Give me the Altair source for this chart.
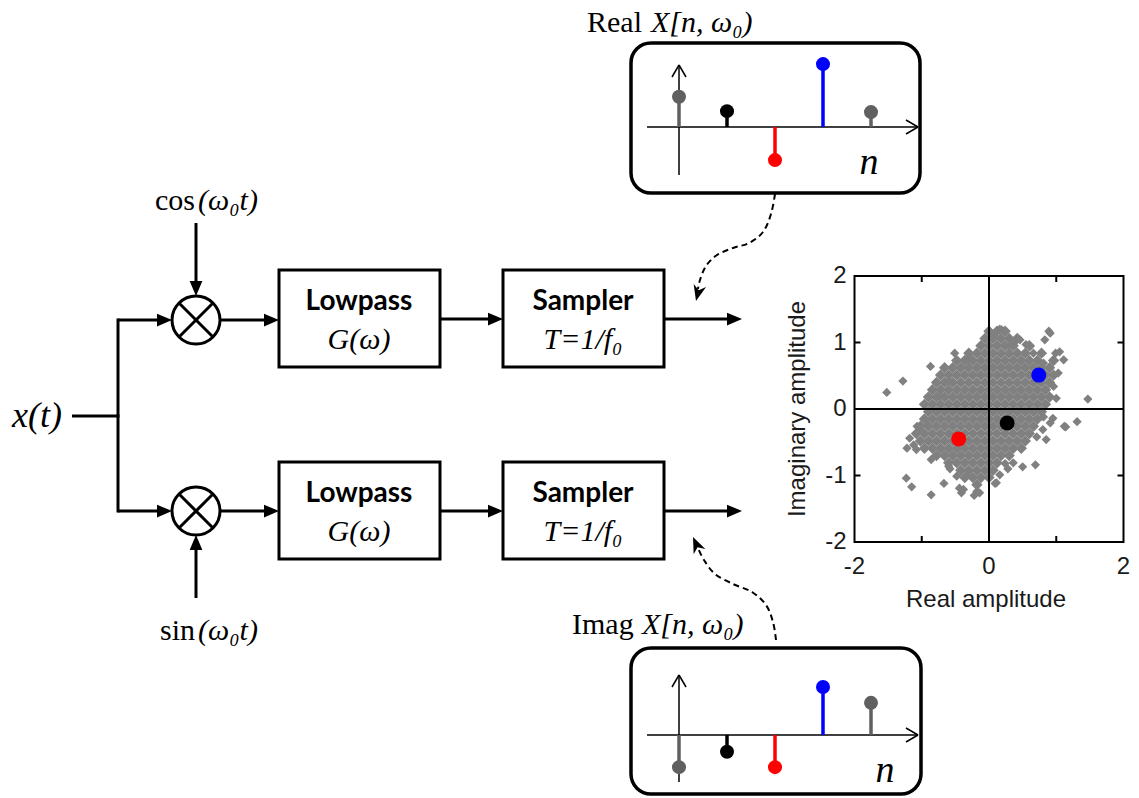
import math
import altair as alt
import pandas as pd

W, H = 1139, 798
SERIF, SANS, BOLD = "Liberation Serif", "Liberation Sans", "Lato"
GRAY = "#808080"

# ---------------- data ----------------
# samples n = 0..4 shown in the two stem plots (arbitrary units)
STEM_N = [0, 1, 2, 3, 4]
STEM_COLORS = ["#606060", "#000000", "#ff0000", "#0000ff", "#606060"]
REAL_STEMS = [0.63, 0.33, -0.69, 1.31, 0.31]
IMAG_STEMS = [-0.67, -0.35, -0.67, 1.00, 0.67]

# highlighted constellation points (real, imaginary)
HL_RE = [-0.45, 0.27, 0.74]
HL_IM = [-0.45, -0.21, 0.51]
HL_COLORS = ["#ff0000", "#000000", "#0000ff"]

# dense core of the scatter cloud, read row by row: (imag, [real values])
CLOUD_CORE = [
    (1.17, [0.00, 0.12, 0.24]),
    (1.06, [-0.06, 0.06, 0.18, 0.30, 0.42]),
    (0.95, [-0.12, 0.00, 0.12, 0.24, 0.36, 0.60]),
    (0.84, [-0.30, -0.18, -0.06, 0.06, 0.18, 0.30, 0.42, 0.54, 0.78]),
    (0.73, [-0.48, -0.36, -0.24, -0.12, 0.00, 0.12, 0.24, 0.36, 0.48, 0.60, 0.72, 0.96]),
    (0.62, [-0.66, -0.54, -0.42, -0.30, -0.18, -0.06, 0.06, 0.18, 0.30, 0.42, 0.54, 0.66, 0.78, 0.90]),
    (0.51, [-0.72, -0.60, -0.48, -0.36, -0.24, -0.12, 0.00, 0.12, 0.24, 0.36, 0.48, 0.60, 0.72, 0.84, 0.96]),
    (0.40, [-0.78, -0.66, -0.54, -0.42, -0.30, -0.18, -0.06, 0.06, 0.18, 0.30, 0.42, 0.54, 0.66, 0.78, 0.90]),
    (0.29, [-0.84, -0.72, -0.60, -0.48, -0.36, -0.24, -0.12, 0.00, 0.12, 0.24, 0.36, 0.48, 0.60, 0.72, 0.84]),
    (0.18, [-0.90, -0.78, -0.66, -0.54, -0.42, -0.30, -0.18, -0.06, 0.06, 0.18, 0.30, 0.42, 0.54, 0.66, 0.78, 0.90]),
    (0.07, [-0.96, -0.84, -0.72, -0.60, -0.48, -0.36, -0.24, -0.12, 0.00, 0.12, 0.24, 0.36, 0.48, 0.60, 0.72, 0.84]),
    (-0.04, [-0.90, -0.78, -0.66, -0.54, -0.42, -0.30, -0.18, -0.06, 0.06, 0.18, 0.30, 0.42, 0.54, 0.66, 0.78]),
    (-0.15, [-0.96, -0.84, -0.72, -0.60, -0.48, -0.36, -0.24, -0.12, 0.00, 0.12, 0.24, 0.36, 0.48, 0.60, 0.72]),
    (-0.26, [-1.02, -0.90, -0.78, -0.66, -0.54, -0.42, -0.30, -0.18, -0.06, 0.06, 0.18, 0.30, 0.42, 0.54, 0.66]),
    (-0.37, [-1.08, -0.96, -0.84, -0.72, -0.60, -0.48, -0.36, -0.24, -0.12, 0.00, 0.12, 0.24, 0.36, 0.48, 0.60]),
    (-0.48, [-1.02, -0.90, -0.78, -0.66, -0.54, -0.42, -0.30, -0.18, -0.06, 0.06, 0.18, 0.30, 0.42, 0.54]),
    (-0.59, [-0.96, -0.84, -0.72, -0.60, -0.48, -0.36, -0.24, -0.12, 0.00, 0.12, 0.24, 0.36, 0.48]),
    (-0.70, [-0.78, -0.66, -0.54, -0.42, -0.30, -0.18, -0.06, 0.06, 0.18, 0.30]),
    (-0.81, [-0.60, -0.48, -0.36, -0.24, -0.12, 0.00, 0.12]),
    (-0.92, [-0.42, -0.30, -0.18, -0.06, 0.06]),
    (-1.03, [-0.36, -0.24, -0.12, 0.00]),
    (-1.14, [-0.18]),
]

# isolated points round the edge of the cloud
CLOUD_EDGE_RE = [-1.52, -1.28, -0.87, -0.51, -0.30, 0.16, 0.06, 0.36, 0.55, 0.89, 0.83, 0.99,
                 1.11, 1.03, 1.47, 1.31, 1.12, 0.95, 0.69, 0.50, 0.28, 0.11, -0.14, -0.22,
                 -0.41, -0.44, -0.67, -0.86, -1.15, -1.23, -0.86, -1.08, -1.18, -1.03, -0.91, -0.58,
                 -0.34, 0.16, 0.36, 0.85, 0.80, 0.91, -0.60, -0.73, -1.12, -1.22, -0.60, -0.48,
                 -0.18, -0.38, 0.19, 0.91, 1.05, 0.96, 1.00, 0.81, 1.14, 0.71, 0.24, 0.09,
                 0.61, 0.46, 0.31, 0.66, 0.81, -0.31, -1.07]
CLOUD_EDGE_IM = [0.25, 0.42, 0.64, 0.84, 0.78, 1.20, 1.09, 0.98, 0.97, 1.17, 1.04, 0.84,
                 0.74, 0.54, 0.15, -0.19, -0.26, -0.14, -0.84, -0.87, -0.90, -1.11, -1.26, -1.30,
                 -1.26, -1.19, -1.12, -1.29, -1.17, -1.04, -0.76, -0.61, -0.44, -0.31, -0.24, -0.90,
                 -1.01, -0.99, -0.81, -0.46, -0.31, -0.21, 0.42, 0.19, -0.54, -0.59, -0.86, -1.01,
                 -1.24, -1.21, 1.19, 1.14, 0.86, 0.34, 0.16, -0.12, -0.27, -0.42, -0.82, -1.12,
                 0.94, 1.04, 0.96, 0.84, 0.69, 0.74, -0.26]

SCATTER_TICKS = [-1, 1]
SCATTER_X_LABELS = [-2, 0, 2]
SCATTER_Y_LABELS = [-2, -1, 0, 1, 2]

# ---------------- layout (pixels) ----------------
SC_X0, SC_Y0, SC_UX, SC_UY = 989, 409, 67.25, 66.5   # scatter inset placement


def sx(v):
    return SC_X0 + v * SC_UX


def sy(v):
    return SC_Y0 - v * SC_UY


STEM_X0, STEM_DX, STEM_UNIT = 679, 48, 48
REAL_BASE, IMAG_BASE = 127, 735

XS = alt.Scale(domain=[0, W], nice=False, zero=False)
YS = alt.Scale(domain=[0, H], nice=False, zero=False, reverse=True)


def ex(f="x"):
    return alt.X(f"{f}:Q", scale=XS, axis=None)


def ey(f="y"):
    return alt.Y(f"{f}:Q", scale=YS, axis=None)


def rules(rows, width, color="black", dash=None, cap="butt"):
    df = pd.DataFrame(rows, columns=["x", "y", "x2", "y2"])
    kw = dict(color=color, strokeWidth=width, strokeCap=cap)
    if dash:
        kw["strokeDash"] = dash
    return alt.Chart(df).mark_rule(**kw).encode(
        x=ex("x"), y=ey("y"), x2=alt.X2("x2"), y2=alt.Y2("y2"))


def rects(rows, **kw):
    df = pd.DataFrame(rows, columns=["x", "x2", "y", "y2"])
    return alt.Chart(df).mark_rect(**kw).encode(
        x=ex("x"), x2=alt.X2("x2"), y=ey("y"), y2=alt.Y2("y2"))


def heads(tips, path, size):
    r = math.sqrt(size) / 2
    rows = [dict(x=tx - r * math.cos(math.radians(a)), y=ty - r * math.sin(math.radians(a)), a=a)
            for tx, ty, a in tips]
    return alt.Chart(pd.DataFrame(rows)).mark_point(
        shape=path, filled=True, color="black", opacity=1, size=size, strokeWidth=0
    ).encode(x=ex(), y=ey(), angle=alt.Angle("a:Q", scale=None))


def texts(rows, font, size, align="center", style="normal", weight="normal", color="black"):
    df = pd.DataFrame(rows, columns=["t", "x", "y", "a"])
    return alt.Chart(df).mark_text(
        font=font, fontSize=size, align=align, baseline="middle", fontStyle=style,
        fontWeight=weight, color=color
    ).encode(x=ex(), y=ey(), text="t:N", angle=alt.Angle("a:Q", scale=None))


layers = []

# rounded boxes holding the stem plots
layers.append(rects([(631, 920, 43, 193), (631, 921, 648, 794)],
                    cornerRadius=20, fill="white", stroke="black", strokeWidth=3.5))

# processing blocks
layers.append(rects([(279, 440, 270, 367), (503, 664, 270, 367),
                     (279, 440, 462, 559), (503, 664, 462, 559)],
                    fill="white", stroke="black", strokeWidth=3))

# signal lines
layers.append(rules([
    (72, 416, 119.5, 416), (118, 318.5, 118, 512.5),
    (118, 320, 166, 320), (118, 511, 166, 511),
    (196, 223, 196, 290), (196, 598, 196, 541),
    (220, 320, 273, 320), (220, 511, 273, 511),
    (440, 319, 497, 319), (440, 511, 497, 511),
    (664, 319, 736, 319), (664, 511, 736, 511),
    (179, 303, 213, 337), (179, 337, 213, 303),
    (179, 494, 213, 528), (179, 528, 213, 494),
], 3))

ARROW = "M1,0L-1,-0.85L-1,0.85Z"
layers.append(heads([(172, 320, 0), (172, 511, 0), (196, 296, 90), (196, 535, 270),
                     (279, 320, 0), (279, 511, 0), (503, 319, 0), (503, 511, 0),
                     (742, 319, 0), (742, 511, 0)], ARROW, 225))

# mixers
mix = pd.DataFrame({"x": [196, 196], "y": [320, 511]})
layers.append(alt.Chart(mix).mark_point(shape="circle", filled=False, color="black",
                                        strokeWidth=3, size=2304, opacity=1)
              .encode(x=ex(), y=ey()))

# dashed curved pointers
curve_rows = []
for cid, pts in enumerate([
    [(775, 194), (771, 214), (763, 232), (749, 243), (733, 248), (717, 255), (706, 266), (700, 280), (698, 289)],
    [(776, 640), (773, 622), (766, 605), (752, 592), (733, 584), (715, 574), (704, 560), (698, 548)],
]):
    for i, (px, py) in enumerate(pts):
        curve_rows.append(dict(id=cid, i=i, x=px, y=py))
layers.append(alt.Chart(pd.DataFrame(curve_rows)).mark_line(
    color="black", strokeWidth=2, strokeDash=[6, 4], interpolate="cardinal")
    .encode(x=ex(), y=ey(), detail="id:N", order="i:Q"))
STEALTH = "M1,0L-1,-0.8L-0.4,0L-1,0.8Z"
layers.append(heads([(696, 301, 104), (693, 537, 246)], STEALTH, 256))

# stem plot axes
layers.append(rules([
    (647, REAL_BASE, 918, REAL_BASE), (679, 175, 679, 65),
    (906, REAL_BASE - 7, 918, REAL_BASE), (906, REAL_BASE + 7, 918, REAL_BASE),
    (672, 77, 679, 65), (686, 77, 679, 65),
    (647, IMAG_BASE, 918, IMAG_BASE), (679, 782, 679, 675),
    (906, IMAG_BASE - 7, 918, IMAG_BASE), (906, IMAG_BASE + 7, 918, IMAG_BASE),
    (672, 687, 679, 675), (686, 687, 679, 675),
], 1.5))

# stems
stem_df = pd.DataFrame({
    "n": STEM_N * 2,
    "v": REAL_STEMS + IMAG_STEMS,
    "base": [REAL_BASE] * 5 + [IMAG_BASE] * 5,
    "c": STEM_COLORS * 2,
})
stem_base = alt.Chart(stem_df).transform_calculate(
    px=f"{STEM_X0} + datum.n * {STEM_DX}",
    tip=f"datum.base - datum.v * {STEM_UNIT}",
)
layers.append(stem_base.mark_rule(strokeWidth=3.5).encode(
    x=ex("px"), y=ey("base"), y2=alt.Y2("tip"), color=alt.Color("c:N", scale=None)))
layers.append(stem_base.mark_circle(size=196, opacity=1).encode(
    x=ex("px"), y=ey("tip"), color=alt.Color("c:N", scale=None)))

# scatter cloud
core_df = pd.DataFrame([(x, y) for y, xs in CLOUD_CORE for x in xs], columns=["re", "im"])
edge_df = pd.DataFrame({"re": CLOUD_EDGE_RE, "im": CLOUD_EDGE_IM})
to_px = dict(px=f"{SC_X0} + datum.re * {SC_UX}", py=f"{SC_Y0} - datum.im * {SC_UY}")
layers.append(alt.Chart(core_df).transform_calculate(**to_px).mark_point(
    shape="diamond", filled=True, color=GRAY, opacity=1, size=130, strokeWidth=0)
    .encode(x=ex("px"), y=ey("py")))
layers.append(alt.Chart(edge_df).transform_calculate(**to_px).mark_point(
    shape="diamond", filled=True, color=GRAY, opacity=1, size=85, strokeWidth=0)
    .encode(x=ex("px"), y=ey("py")))

# scatter frame, zero lines, ticks
layers.append(rects([(sx(-2), sx(2), sy(2), sy(-2))], fillOpacity=0,
                    stroke="black", strokeWidth=2))
tick_rows = [(sx(0), sy(2), sx(0), sy(-2)), (sx(-2), sy(0), sx(2), sy(0))]
for v in SCATTER_TICKS:
    tick_rows += [(sx(v), sy(2), sx(v), sy(2) + 6), (sx(v), sy(-2), sx(v), sy(-2) - 6),
                  (sx(-2), sy(v), sx(-2) + 6, sy(v)), (sx(2), sy(v), sx(2) - 6, sy(v))]
layers.append(rules(tick_rows, 2))

# highlighted points
hl_df = pd.DataFrame({"re": HL_RE, "im": HL_IM, "c": HL_COLORS})
layers.append(alt.Chart(hl_df).transform_calculate(**to_px).mark_circle(size=225, opacity=1)
              .encode(x=ex("px"), y=ey("py"), color=alt.Color("c:N", scale=None)))

# ---------------- texts ----------------
layers.append(texts([("cos", 195, 201, 0), ("sin", 195, 631, 0)], SERIF, 30, align="right"))
layers.append(texts([("(ω₀t)", 198, 201, 0), ("(ω₀t)", 198, 631, 0),
                     ("X[n, ω₀)", 651, 23, 0), ("X[n, ω₀)", 642, 625, 0)],
                    SERIF, 30, align="left", style="italic"))
layers.append(texts([("Real", 587, 23, 0), ("Imag", 572, 625, 0)], SERIF, 30, align="left"))
layers.append(texts([("x(t)", 37, 416, 0)], SERIF, 36, style="italic"))
layers.append(texts([("G(ω)", 359, 340, 0), ("G(ω)", 359, 532, 0),
                     ("T=1/f₀", 583, 340, 0), ("T=1/f₀", 583, 532, 0)],
                    SERIF, 30, style="italic"))
layers.append(texts([("n", 869, 163, 0), ("n", 885, 771, 0)], SERIF, 38, style="italic"))
layers.append(texts([("Lowpass", 359, 302, 0), ("Lowpass", 359, 494, 0),
                     ("Sampler", 583, 302, 0), ("Sampler", 583, 494, 0)],
                    BOLD, 28, weight="bold"))

lab_rows = [(str(v), sx(v), sy(-2) + 25, 0) for v in SCATTER_X_LABELS]
lab_rows += [("Real amplitude", sx(0) - 3, sy(-2) + 58, 0)]
lab_rows += [("Imaginary amplitude", sx(-2) - 57, sy(0), 270)]
layers.append(texts(lab_rows, SANS, 24, color="#1a1a1a"))
layers.append(texts([(str(v), sx(-2) - 8, sy(v), 0) for v in SCATTER_Y_LABELS],
                    SANS, 24, align="right", color="#1a1a1a"))

chart = alt.layer(*layers).properties(
    width=W, height=H, padding=0, autosize=alt.AutoSizeParams(type="none"),
    background="white",
).configure_view(strokeWidth=0)

chart.save("out.html", embed_options={"renderer": "svg", "actions": False})
